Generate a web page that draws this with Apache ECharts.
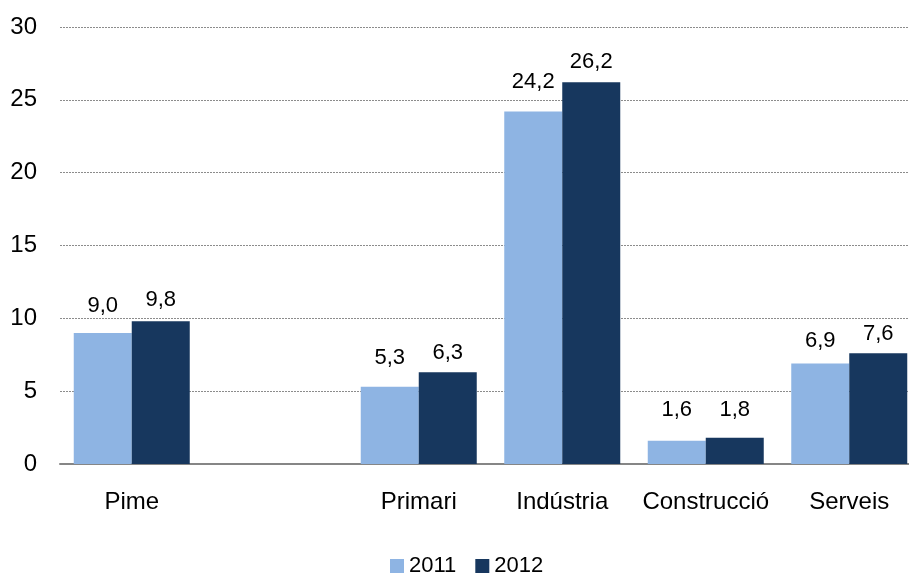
<!DOCTYPE html>
<html>
<head>
<meta charset="utf-8">
<script src="https://cdn.jsdelivr.net/npm/echarts@6/dist/echarts.min.js"></script>
<style>
  html, body { margin: 0; padding: 0; background: #fff; overflow: hidden; }
  /* the original plot runs past the right edge of the picture, so the canvas is a bit wider than the window */
  #chart { width: 921px; height: 574px; }
</style>
</head>
<body>
<div id="chart"></div>
<script>
const categories = ['Pime', '', 'Primari', 'Indústria', 'Construcció', 'Serveis'];
const values2011 = [9.0, '-', 5.3, 24.2, 1.6, 6.9];
const values2012 = [9.8, '-', 6.3, 26.2, 1.8, 7.6];
const yTicks = { min: 0, max: 30, interval: 5 };

// the labels in the original sit at slightly different heights above their bars
const labelGap2011 = [16, 0, 18, 19, 20, 12];
const labelGap2012 = [10, 0, 8, 9, 17, 8];

const font = 'Liberation Sans, Arial, sans-serif';

function barLabel() {
    return {
        show: true,
        position: 'top',
        distance: 11,
        color: '#000',
        fontSize: 22,
        fontFamily: font,
        formatter: function (p) { return p.value.toFixed(1).replace('.', ','); }
    };
}

function withGaps(values, gaps) {
    return values.map(function (v, i) {
        if (v === '-') return v;
        return { value: v, label: { distance: gaps[i] } };
    });
}

let myChart = echarts.init(document.getElementById('chart'));
let option = {
    animation: false,
    grid: {
        left: 60,
        right: 0,
        top: 27,
        bottom: 110
    },
    legend: {
        left: 390,
        top: 555,
        padding: 0,
        icon: 'rect',
        itemWidth: 14,
        itemHeight: 14,
        itemGap: 19,
        textStyle: { fontSize: 22, fontFamily: font, color: '#000' },
        data: ['2011', '2012']
    },
    xAxis: {
        type: 'category',
        data: categories,
        axisLine: { lineStyle: { color: '#868686', width: 2 } },
        axisTick: { show: false },
        axisLabel: {
            color: '#000',
            fontSize: 24,
            fontFamily: font,
            margin: 26,
            interval: 0
        }
    },
    yAxis: {
        type: 'value',
        min: yTicks.min,
        max: yTicks.max,
        interval: yTicks.interval,
        axisLine: { show: false },
        axisTick: { show: false },
        axisLabel: {
            color: '#000',
            fontSize: 24,
            fontFamily: font,
            margin: 23
        },
        splitLine: {
            lineStyle: { color: '#8c8c8c', type: [2, 1], width: 1 }
        }
    },
    series: [
        {
            name: '2011',
            type: 'bar',
            data: withGaps(values2011, labelGap2011),
            barWidth: 58,
            barGap: '0%',
            itemStyle: { color: '#8EB4E3' },
            label: barLabel()
        },
        {
            name: '2012',
            type: 'bar',
            data: withGaps(values2012, labelGap2012),
            barWidth: 58,
            itemStyle: { color: '#17375E' },
            label: barLabel()
        }
    ]
};
myChart.setOption(option);
</script>
</body>
</html>
